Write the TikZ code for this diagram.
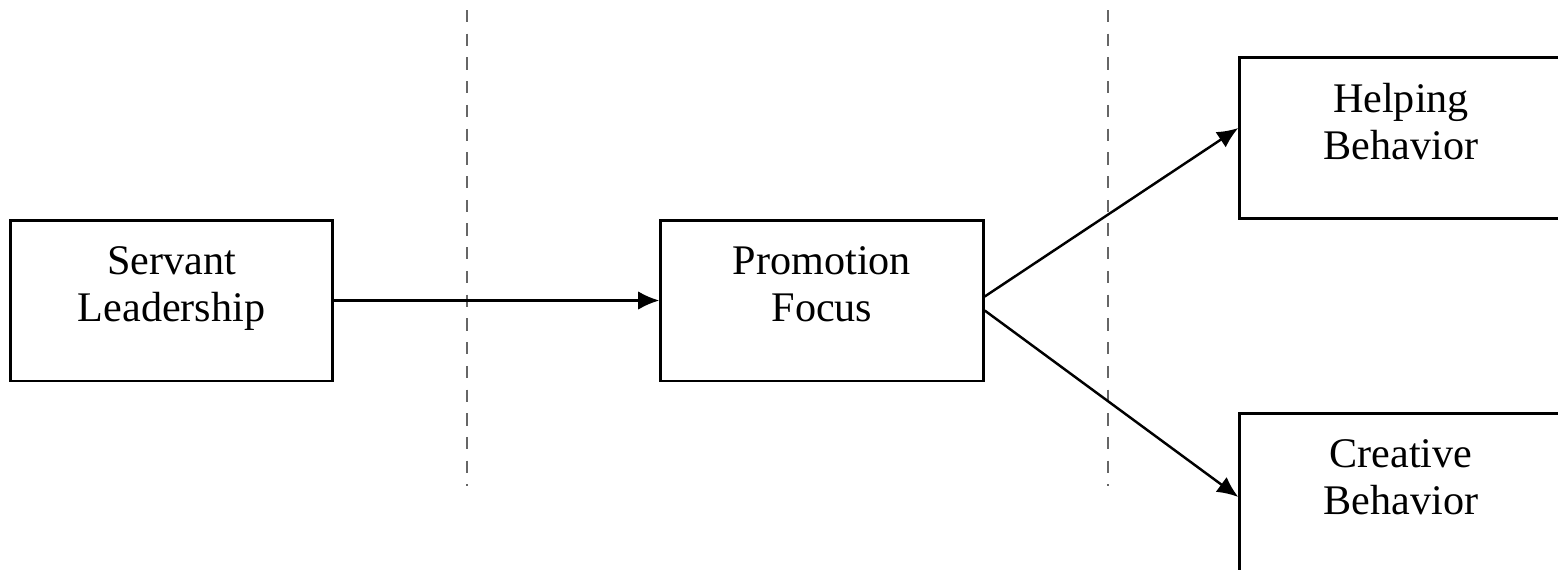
\documentclass[tikz,border=0pt]{standalone}
\usepackage{fontspec}
\setmainfont{Liberation Serif}
\usetikzlibrary{arrows.meta}
\tikzset{
  varbox/.style={draw, line width=1.7pt, minimum width=6.45cm, minimum height=3.22cm,
    align=center, inner sep=0pt, text depth=19pt, font=\fontsize{24}{27}\selectfont},
  stage/.style={draw=black!60, line width=1.3pt, dash pattern=on 7pt off 6.5pt},
  path/.style={line width=1.4pt, -{Latex[length=12pt,width=10.5pt]}}
}
\begin{document}
\begin{tikzpicture}[x=0.02cm,y=-0.02cm]
\clip (0,0) rectangle (1558,569);

\node [varbox] (servant) at (171.5,300.5) {Servant\\Leadership};
\node [varbox] (promotion) at (822,300.5) {Promotion\\Focus};
\node [varbox] (helping) at (1401,138) {Helping\\Behavior};
\node [varbox] (creative) at (1401,494) {Creative\\Behavior};

% stages
\coordinate (s1top) at (467,10);
\coordinate (s1bot) at (467,486);
\coordinate (s2top) at (1108,10);
\coordinate (s2bot) at (1108,486);
\draw [stage] (s1top) -- (s1bot);
\draw [stage] (s2top) -- (s2bot);

% paths
\draw [path] (servant.east) -- (promotion.west);
\draw [path]
([yshift=0.08cm]promotion.east) --
([yshift=0.2cm]helping.west);
\draw [path]
([yshift=-0.2cm]promotion.east) --
([yshift=-0.06cm]creative.west);
\end{tikzpicture}
\end{document}
